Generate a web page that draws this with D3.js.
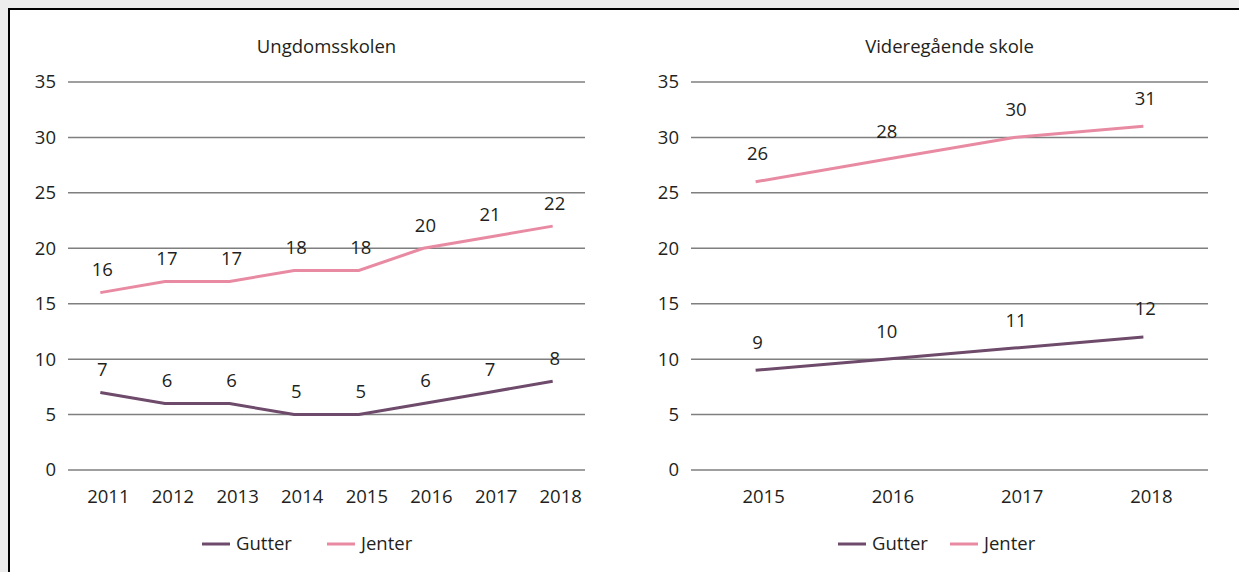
<!DOCTYPE html>
<html>
<head>
<meta charset="utf-8">
<script src="https://cdn.jsdelivr.net/npm/d3@7"></script>
<style>
  body { margin: 0; background: #ececec; }
  text { font-family: "Open Sans", sans-serif; fill: #231f20; }
</style>
</head>
<body>
<div id="chart"></div>
<script>
// data
const yearsUngdom = ["2011", "2012", "2013", "2014", "2015", "2016", "2017", "2018"];
const gutterUngdom = [7, 6, 6, 5, 5, 6, 7, 8];
const jenterUngdom = [16, 17, 17, 18, 18, 20, 21, 22];

const yearsVgs = ["2015", "2016", "2017", "2018"];
const gutterVgs = [9, 10, 11, 12];
const jenterVgs = [26, 28, 30, 31];

const yTicks = [0, 5, 10, 15, 20, 25, 30, 35];
const seriesNames = ["Gutter", "Jenter"];
const colors = { Gutter: "#6e4a6b", Jenter: "#e98aa3" };

var width = 1239, height = 572;
var fontSize = "18.5px";

var svg = d3.select("#chart")
  .append("svg")
  .attr("width", width)
  .attr("height", height);

// white frame with black border top/left
svg.append("rect")
  .attr("x", 9).attr("y", 9)
  .attr("width", width).attr("height", height)
  .attr("fill", "white")
  .attr("stroke", "black")
  .attr("stroke-width", 2);

var y = d3.scaleLinear().domain([0, 35]).range([470, 82]);

function panel(opts) {
  var x = d3.scalePoint()
    .domain(opts.years)
    .range([opts.x0, opts.x1])
    .padding(0.5);

  var g = svg.append("g");

  g.append("text")
    .attr("x", (opts.x0 + opts.x1) / 2)
    .attr("y", 47)
    .attr("dy", "0.35em")
    .attr("text-anchor", "middle")
    .style("font-size", fontSize)
    .text(opts.title);

  // grid
  g.selectAll("line.grid")
    .data(yTicks)
    .enter().append("line")
    .attr("class", "grid")
    .attr("x1", opts.x0).attr("x2", opts.x1)
    .attr("y1", d => y(d)).attr("y2", d => y(d))
    .attr("stroke", "#7f7f7f")
    .attr("stroke-width", 1.5);

  g.selectAll("text.ytick")
    .data(yTicks)
    .enter().append("text")
    .attr("class", "ytick")
    .attr("x", opts.x0 - 12)
    .attr("y", d => y(d))
    .attr("dy", "0.35em")
    .attr("text-anchor", "end")
    .style("font-size", fontSize)
    .text(d => d);

  g.selectAll("text.xtick")
    .data(opts.years)
    .enter().append("text")
    .attr("class", "xtick")
    .attr("x", d => x(d) + 8)
    .attr("y", 497)
    .attr("dy", "0.35em")
    .attr("text-anchor", "middle")
    .style("font-size", fontSize)
    .text(d => d);

  var line = d3.line()
    .x((d, i) => x(opts.years[i]))
    .y(d => y(d));

  var series = [
    { name: "Gutter", values: opts.gutter },
    { name: "Jenter", values: opts.jenter }
  ];

  series.forEach(function (s) {
    g.append("path")
      .attr("d", line(s.values))
      .attr("fill", "none")
      .attr("stroke", colors[s.name])
      .attr("stroke-width", 3);

    g.selectAll(null)
      .data(s.values)
      .enter().append("text")
      .attr("x", (d, i) => x(opts.years[i]) + 2)
      .attr("y", d => y(d) - opts.labelOffset)
      .attr("dy", "0.35em")
      .attr("text-anchor", "middle")
      .style("font-size", fontSize)
      .text(d => d);
  });

  // legend
  var lg = g.append("g")
    .attr("transform", "translate(" + opts.legendX + ",544)");
  seriesNames.forEach(function (name, i) {
    var off = i * opts.legendGap;
    lg.append("line")
      .attr("x1", off).attr("x2", off + 28)
      .attr("y1", 0).attr("y2", 0)
      .attr("stroke", colors[name])
      .attr("stroke-width", 3);
    lg.append("text")
      .attr("x", off + 34)
      .attr("y", 0)
      .attr("dy", "0.35em")
      .style("font-size", fontSize)
      .text(name);
  });
}

panel({
  title: "Ungdomsskolen",
  years: yearsUngdom, gutter: gutterUngdom, jenter: jenterUngdom,
  x0: 68, x1: 585, labelOffset: 23,
  legendX: 202, legendGap: 125
});

panel({
  title: "Videregående skole",
  years: yearsVgs, gutter: gutterVgs, jenter: jenterVgs,
  x0: 691, x1: 1208, labelOffset: 28,
  legendX: 838, legendGap: 112
});
</script>
</body>
</html>
